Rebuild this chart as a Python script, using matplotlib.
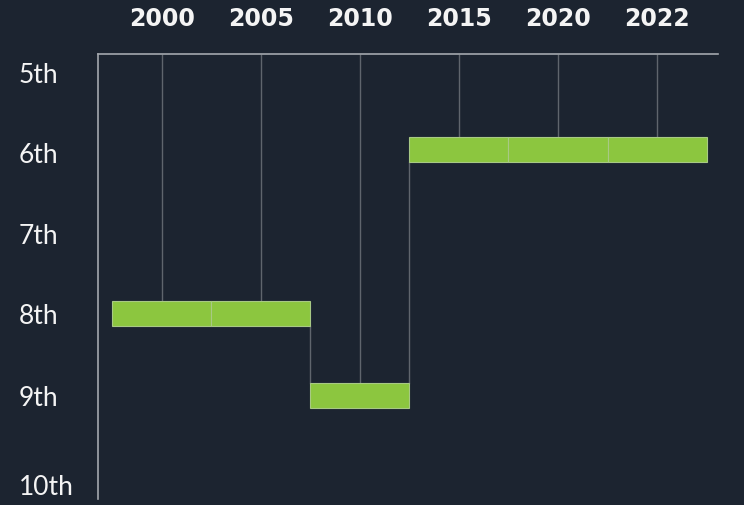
import matplotlib
matplotlib.use("Agg")
import matplotlib.pyplot as plt
import matplotlib.transforms as mtransforms

years = ["2000", "2005", "2010", "2015", "2020", "2022"]
ranks = [8, 8, 9, 6, 6, 6]
rank_ticks = [5, 6, 7, 8, 9, 10]
rank_labels = ["5th", "6th", "7th", "8th", "9th", "10th"]

BG = "#1c2430"
GREEN = "#8cc63f"
AXIS = "#a3a7ad"
GRID = "#5f656d"
TEXT = "#f4f4f4"

fig = plt.figure(figsize=(7.44, 5.06), dpi=100, facecolor=BG)
ax = fig.add_axes([98/744, 1-500/506, (718-98)/744, (500-55)/506], facecolor=BG)

x = list(range(len(years)))
bh = 0.306
ax.set_xlim(-0.646, 5.616)
ax.set_ylim(10.27, 4.83)
top = 4.83

# grid lines from top to bar top
for xi, r in zip(x, ranks):
    ax.plot([xi, xi], [top, r - bh/2], color=GRID, lw=1.0, zorder=1, solid_capstyle="butt")

# step connectors
for i in range(len(ranks) - 1):
    r0, r1 = ranks[i], ranks[i+1]
    if r0 != r1:
        lo, hi = min(r0, r1), max(r0, r1)
        ax.plot([i + 0.5, i + 0.5], [lo + bh/2, hi - bh/2], color=GRID, lw=1.0, zorder=1)

ax.bar(x, [bh]*len(x), bottom=[r - bh/2 for r in ranks], width=1.0,
       color=GREEN, edgecolor="#a8c984", linewidth=0.8, zorder=3)

for s in ["right", "bottom"]:
    ax.spines[s].set_visible(False)
for s in ["left", "top"]:
    ax.spines[s].set_color(AXIS)
    ax.spines[s].set_linewidth(1.2)

ax.xaxis.tick_top()
ax.set_xticks(x)
ax.set_xticklabels(years, fontsize=17, fontweight="bold", color=TEXT, family="DejaVu Sans")
ax.tick_params(axis="x", length=0, pad=17)

ax.set_yticks(rank_ticks)
ax.set_yticklabels(rank_labels, fontsize=19, color=TEXT, family="Lato", fontweight="normal", ha="left")
ax.tick_params(axis="y", length=0, pad=57)
offsets_px = [-4, -2, -1, 0, 0, -7]
for lbl, dy in zip(ax.get_yticklabels(), offsets_px):
    lbl.set_transform(lbl.get_transform() + mtransforms.ScaledTranslation(0, dy / 100, fig.dpi_scale_trans))

fig.savefig("out.png", dpi=100, facecolor=BG)
